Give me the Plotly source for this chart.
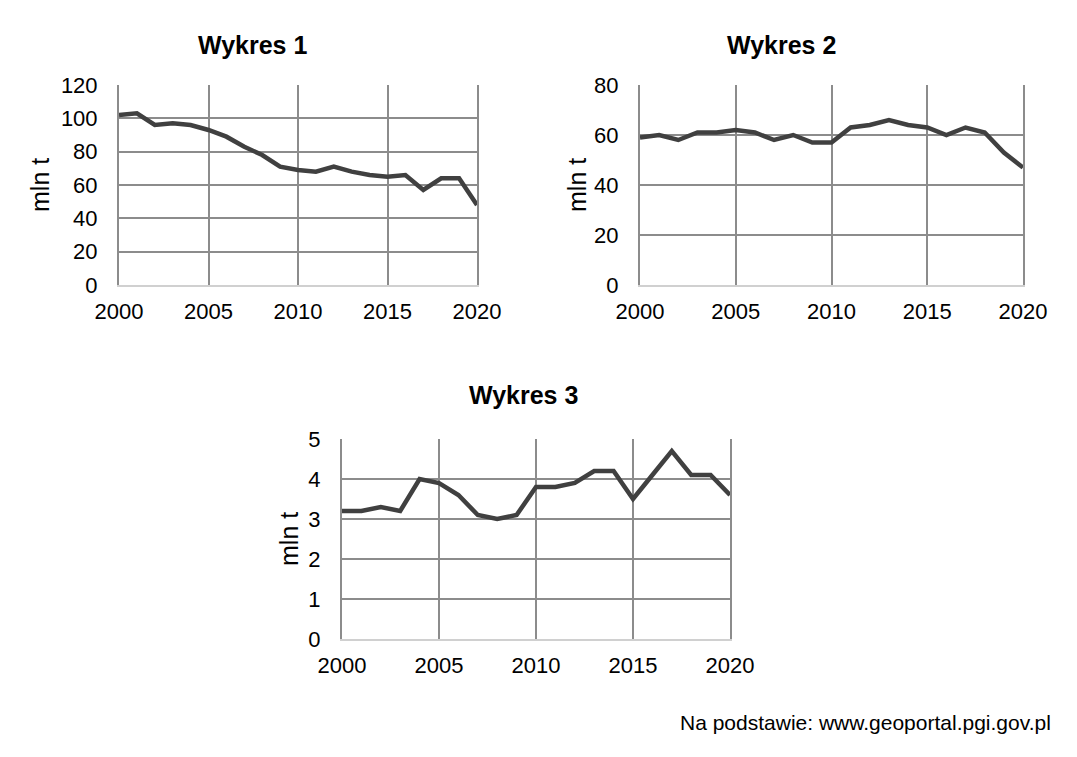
import plotly.graph_objects as go

# lata na osi X (wspolne dla wszystkich wykresow)
years = list(range(2000, 2021))

# wartosci w mln t
wykres1 = [102, 103, 96, 97, 96, 93, 89, 83, 78, 71, 69, 68, 71, 68, 66, 65, 66, 57, 64, 64, 48]
wykres2 = [59, 60, 58, 61, 61, 62, 61, 58, 60, 57, 57, 63, 64, 66, 64, 63, 60, 63, 61, 53, 47]
wykres3 = [3.2, 3.2, 3.3, 3.2, 4.0, 3.9, 3.6, 3.1, 3.0, 3.1, 3.8, 3.8, 3.9, 4.2, 4.2, 3.5, 4.1, 4.7, 4.1, 4.1, 3.6]

titles = ["Wykres 1", "Wykres 2", "Wykres 3"]
y_ranges = [(0, 120, 20), (0, 80, 20), (0, 5, 1)]
source = "Na podstawie: www.geoportal.pgi.gov.pl"

W, H = 1077, 757
OFF = 8  # margines strony (body) przesuwa wykres o 8 px
FONT = "Liberation Sans, Arial, sans-serif"
LINE = "#404040"
GRID = "#8c8c8c"


def px(x):
    return (x - OFF) / W


def py(y):
    return 1 - (y - OFF) / H


# polozenie pol wykresow w pikselach strony: (lewo, prawo, gora, dol)
boxes = [(119, 477, 85, 285), (640, 1023, 85, 285), (342, 730, 439, 639)]
title_pos = [(252, 45), (781, 45), (523, 395)]
label_pos = [(40, 185), (577, 185), (289, 539)]

fig = go.Figure()

series = [wykres1, wykres2, wykres3]
for i, vals in enumerate(series):
    n = "" if i == 0 else str(i + 1)
    fig.add_trace(
        go.Scatter(
            x=years,
            y=vals,
            mode="lines",
            line=dict(color=LINE, width=4.5),
            xaxis="x" + n,
            yaxis="y" + n,
            showlegend=False,
        )
    )
    l, r, t, b = boxes[i]
    lo, hi, step = y_ranges[i]
    fig.update_layout(
        {
            "xaxis" + n: dict(
                domain=[px(l), px(r)],
                anchor="y" + n,
                range=[2000, 2020],
                tick0=2000,
                dtick=5,
                showgrid=True,
                gridcolor=GRID,
                gridwidth=2,
                showline=True,
                linecolor="#d0d0d0",
                linewidth=2,
                zeroline=False,
                ticks="",
                automargin=False,
                ticklabelstandoff=6,
                tickfont=dict(size=22, color="black"),
            ),
            "yaxis" + n: dict(
                domain=[py(b), py(t)],
                anchor="x" + n,
                range=[lo, hi],
                dtick=step,
                showgrid=True,
                gridcolor=GRID,
                gridwidth=2,
                showline=True,
                mirror=True,
                linecolor=GRID,
                linewidth=2,
                zeroline=False,
                ticks="",
                automargin=False,
                ticklabelstandoff=15,
                tickfont=dict(size=22, color="black"),
            ),
        }
    )
    tx, ty = title_pos[i]
    fig.add_annotation(
        x=px(tx), y=py(ty), xref="paper", yref="paper",
        xanchor="center", yanchor="middle",
        text="<b>" + titles[i] + "</b>", showarrow=False,
        font=dict(size=25, color="black"),
    )
    lx, ly = label_pos[i]
    fig.add_annotation(
        x=px(lx), y=py(ly), xref="paper", yref="paper",
        xanchor="center", yanchor="middle",
        text="mln t", textangle=-90, showarrow=False,
        font=dict(size=25, color="black"),
    )

fig.add_annotation(
    x=px(1053), y=py(722), xref="paper", yref="paper",
    xanchor="right", yanchor="middle",
    text=source, showarrow=False,
    font=dict(size=21, color="black"),
)

fig.update_layout(
    width=W,
    height=H,
    margin=dict(l=0, r=0, t=0, b=0),
    paper_bgcolor="white",
    plot_bgcolor="white",
    font=dict(family=FONT, color="black"),
)

fig.write_html("out.html")
